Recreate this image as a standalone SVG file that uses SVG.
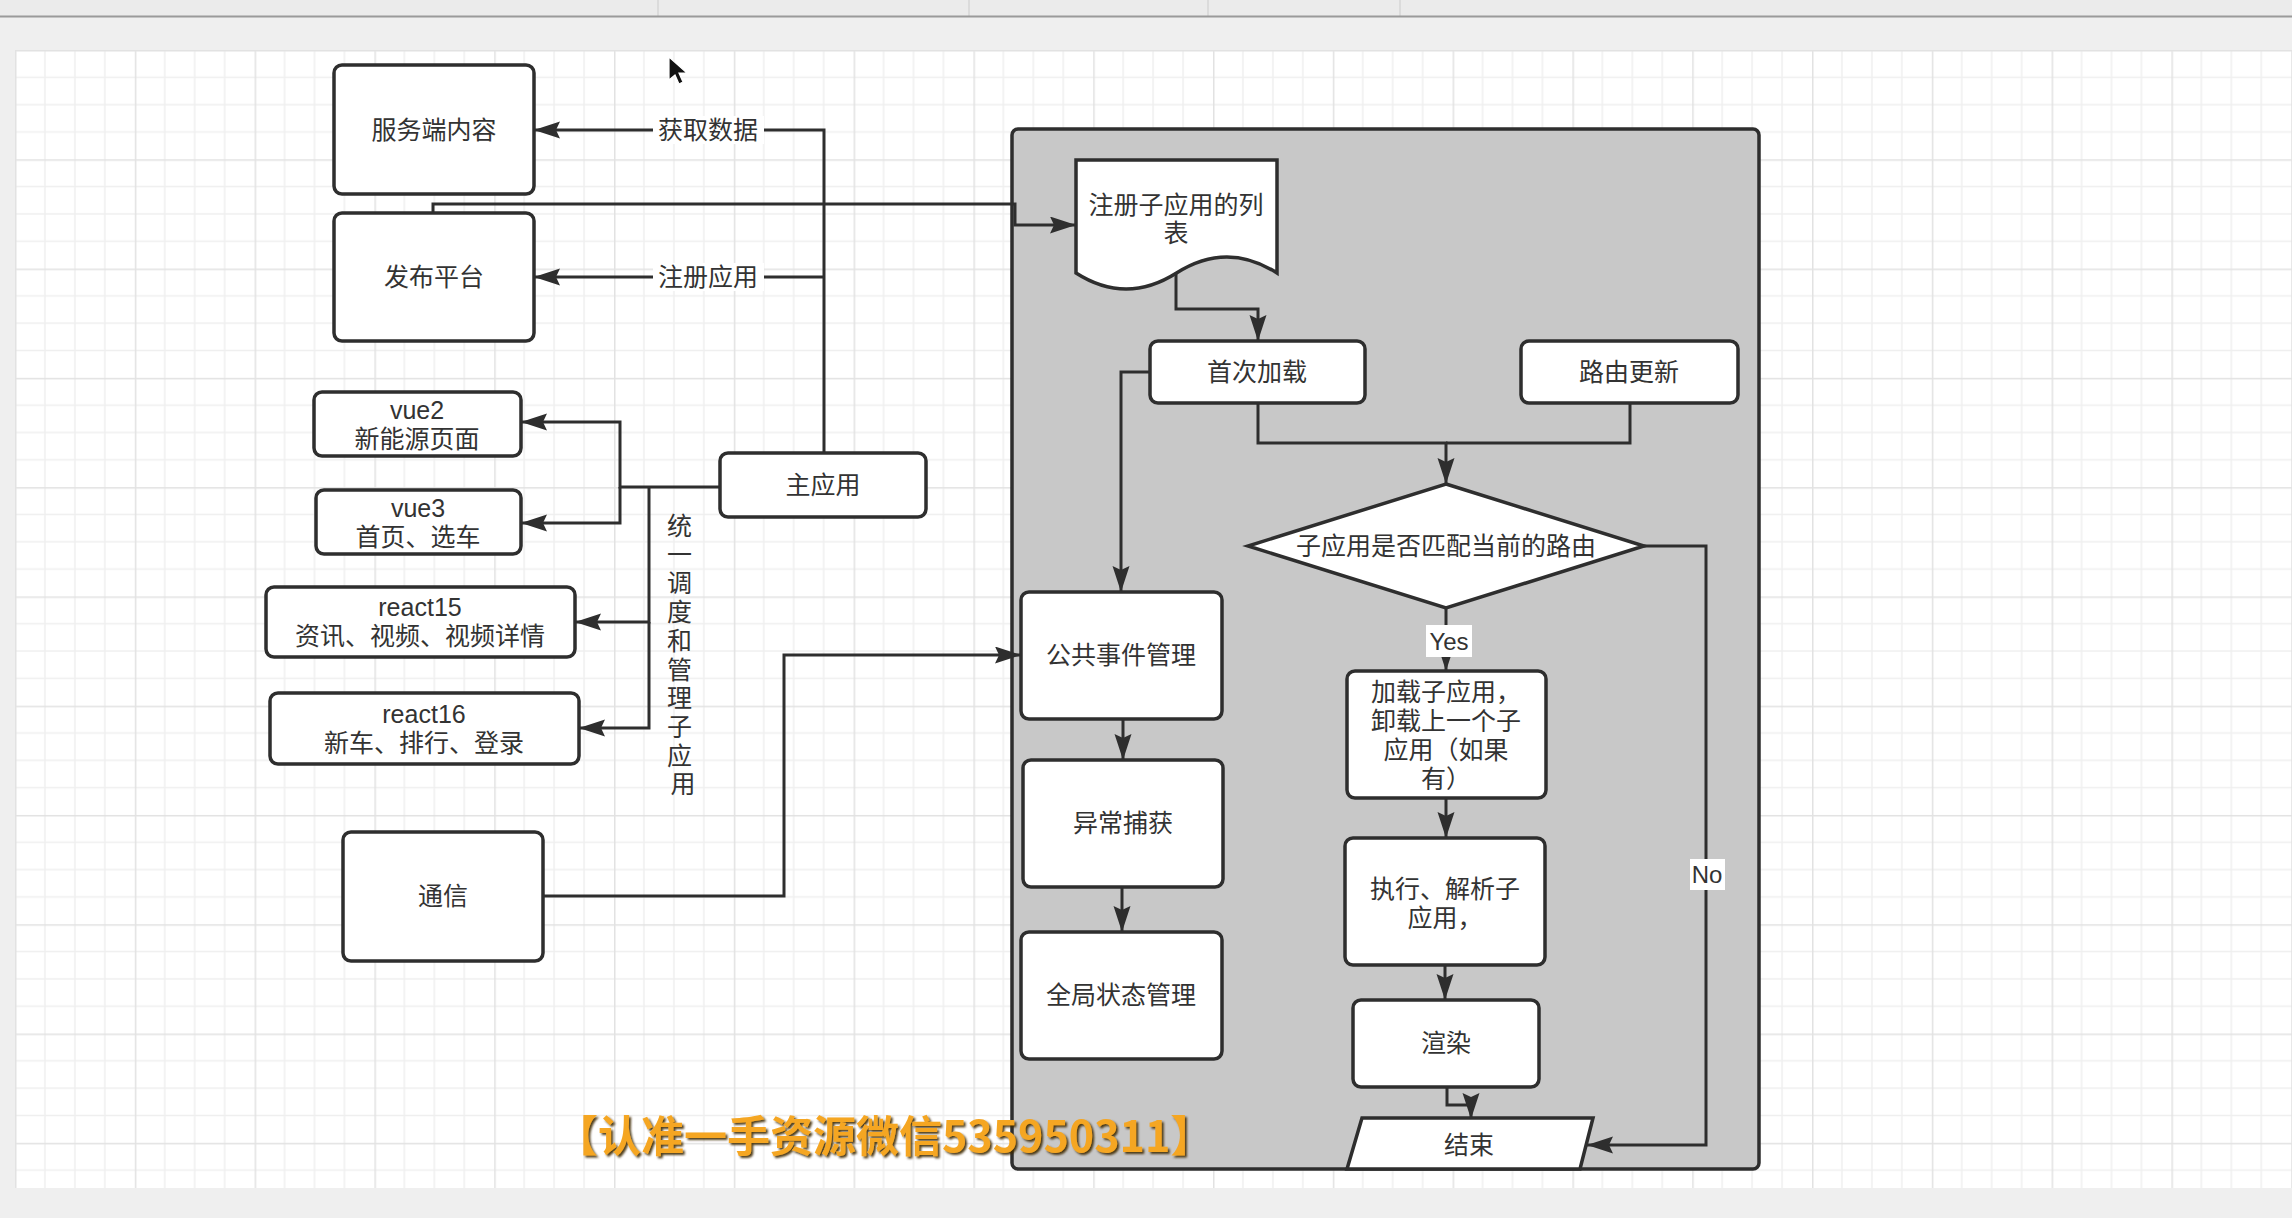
<svg xmlns="http://www.w3.org/2000/svg" width="2292" height="1218" viewBox="0 0 2292 1218">
  <defs>
    <style>
      .box { fill: #ffffff; stroke: #2e2e2e; stroke-width: 3.5; }
      .edge { fill: none; stroke: #2e2e2e; stroke-width: 3; }
      .t { font-family: "Liberation Sans", "Noto Sans CJK SC", sans-serif; font-size: 25px; fill: #333333; text-anchor: middle; dominant-baseline: central; }
      .lbl { fill: #ffffff; }
      .minor { stroke: #efefef; stroke-width: 1.5; }
      .major { stroke: #e2e2e2; stroke-width: 1.5; }
    </style>
    <pattern id="grid" patternUnits="userSpaceOnUse" x="15" y="50" width="119.8" height="109.28">
      <line class="minor" x1="29.95" y1="0" x2="29.95" y2="109.28"/>
      <line class="minor" x1="59.9" y1="0" x2="59.9" y2="109.28"/>
      <line class="minor" x1="89.85" y1="0" x2="89.85" y2="109.28"/>
      <line class="minor" x1="0" y1="27.32" x2="119.8" y2="27.32"/>
      <line class="minor" x1="0" y1="54.64" x2="119.8" y2="54.64"/>
      <line class="minor" x1="0" y1="81.96" x2="119.8" y2="81.96"/>
      <line class="major" x1="0.75" y1="0" x2="0.75" y2="109.28"/>
      <line class="major" x1="0" y1="0.75" x2="119.8" y2="0.75"/>
    </pattern>
    <marker id="arr" markerUnits="userSpaceOnUse" markerWidth="28" markerHeight="18" refX="26" refY="8.5" orient="auto">
      <path d="M0,0 L26,8.5 L0,17 L4,8.5 Z" fill="#2e2e2e"/>
    </marker>
    <filter id="shadow" x="-5%" y="-20%" width="110%" height="140%">
      <feDropShadow dx="2" dy="2" stdDeviation="0.8" flood-color="#3d2600" flood-opacity="0.9"/>
    </filter>
  </defs>

  <!-- window chrome and canvas -->
  <rect x="0" y="0" width="2292" height="1218" fill="#efefef"/>
  <rect x="0" y="0" width="2292" height="16" fill="#ebebeb"/>
  <g stroke="#d6d6d6" stroke-width="1.5">
    <line x1="658" y1="0" x2="658" y2="16"/>
    <line x1="969" y1="0" x2="969" y2="16"/>
    <line x1="1208" y1="0" x2="1208" y2="16"/>
    <line x1="1400" y1="0" x2="1400" y2="16"/>
  </g>
  <line x1="0" y1="16.5" x2="2292" y2="16.5" stroke="#9a9a9a" stroke-width="2"/>
  <rect x="15" y="50" width="2277" height="1138" fill="#ffffff"/>
  <rect x="15" y="50" width="2277" height="1138" fill="url(#grid)"/>

  <!-- sub-application lifecycle container -->
  <g id="container">
    <rect x="1012" y="129" width="747" height="1040" rx="6" fill="#c8c8c8" stroke="#2e2e2e" stroke-width="3.5"/>
  </g>

  <!-- connectors -->
  <g id="connectors">
    <path class="edge" d="M824,453 V130 H534" marker-end="url(#arr)"/>
    <path class="edge" d="M824,277 H534" marker-end="url(#arr)"/>
    <path class="edge" d="M433,213 V204 H1015 V225 H1076" marker-end="url(#arr)"/>
    <path class="edge" d="M720,487 H620 V422 H521" marker-end="url(#arr)"/>
    <path class="edge" d="M620,487 V523 H521" marker-end="url(#arr)"/>
    <path class="edge" d="M649,487 V622 H575" marker-end="url(#arr)"/>
    <path class="edge" d="M649,622 V728 H579" marker-end="url(#arr)"/>
    <path class="edge" d="M543,896 H784 V655 H1021" marker-end="url(#arr)"/>
    <path class="edge" d="M1176,274 V309 H1258 V341" marker-end="url(#arr)"/>
    <path class="edge" d="M1150,372 H1121 V592" marker-end="url(#arr)"/>
    <path class="edge" d="M1258,403 V443 H1446 V484" marker-end="url(#arr)"/>
    <path class="edge" d="M1630,403 V443 H1446"/>
    <path class="edge" d="M1123,719 V760" marker-end="url(#arr)"/>
    <path class="edge" d="M1122,887 V932" marker-end="url(#arr)"/>
    <path class="edge" d="M1446,608 V671" marker-end="url(#arr)"/>
    <path class="edge" d="M1446,798 V838" marker-end="url(#arr)"/>
    <path class="edge" d="M1445,965 V1000" marker-end="url(#arr)"/>
    <path class="edge" d="M1447,1087 V1105 H1471 V1119" marker-end="url(#arr)"/>
    <path class="edge" d="M1644,546 H1706 V1145 H1587" marker-end="url(#arr)"/>

    <rect class="lbl" x="653" y="116" width="111" height="28"/>
    <text class="t" x="708" y="130">获取数据</text>
    <rect class="lbl" x="653" y="263" width="111" height="28"/>
    <text class="t" x="708" y="277">注册应用</text>
    <text class="t">
      <tspan x="683" y="526">统</tspan>
      <tspan x="683" dy="28.7">一</tspan>
      <tspan x="683" dy="28.7">调</tspan>
      <tspan x="683" dy="28.7">度</tspan>
      <tspan x="683" dy="28.7">和</tspan>
      <tspan x="683" dy="28.7">管</tspan>
      <tspan x="683" dy="28.7">理</tspan>
      <tspan x="683" dy="28.7">子</tspan>
      <tspan x="683" dy="28.7">应</tspan>
      <tspan x="683" dy="28.7">用</tspan>
    </text>
    <rect class="lbl" x="1426" y="625" width="46" height="32"/>
    <text class="t" x="1449" y="641" style="font-size:24px">Yes</text>
    <rect class="lbl" x="1690" y="859" width="35" height="31"/>
    <text class="t" x="1707" y="874" style="font-size:24px">No</text>
  </g>

  <!-- left-hand nodes -->
  <g id="server-content">
    <rect class="box" x="334" y="65" width="200" height="129" rx="8"/>
    <text class="t" x="434" y="130">服务端内容</text>
  </g>
  <g id="publish-platform">
    <rect class="box" x="334" y="213" width="200" height="128" rx="8"/>
    <text class="t" x="434" y="277">发布平台</text>
  </g>
  <g id="vue2">
    <rect class="box" x="314" y="392" width="207" height="64" rx="8"/>
    <text class="t" x="417" y="410">vue2</text>
    <text class="t" x="417" y="439">新能源页面</text>
  </g>
  <g id="vue3">
    <rect class="box" x="316" y="490" width="205" height="64" rx="8"/>
    <text class="t" x="418" y="508">vue3</text>
    <text class="t" x="418" y="537">首页、选车</text>
  </g>
  <g id="react15">
    <rect class="box" x="266" y="587" width="309" height="70" rx="8"/>
    <text class="t" x="420" y="607">react15</text>
    <text class="t" x="420" y="636">资讯、视频、视频详情</text>
  </g>
  <g id="react16">
    <rect class="box" x="270" y="693" width="309" height="71" rx="8"/>
    <text class="t" x="424" y="714">react16</text>
    <text class="t" x="424" y="743">新车、排行、登录</text>
  </g>
  <g id="main-app">
    <rect class="box" x="720" y="453" width="206" height="64" rx="8"/>
    <text class="t" x="823" y="485">主应用</text>
  </g>
  <g id="communication">
    <rect class="box" x="343" y="832" width="200" height="129" rx="8"/>
    <text class="t" x="443" y="896">通信</text>
  </g>

  <!-- nodes inside the container -->
  <g id="app-list">
    <path class="box" d="M1076,160 H1277 V273 Q1227,241 1176.5,273 Q1126,305 1076,273 Z"/>
    <text class="t" x="1176" y="205">注册子应用的列</text>
    <text class="t" x="1176" y="233">表</text>
  </g>
  <g id="first-load">
    <rect class="box" x="1150" y="341" width="215" height="62" rx="8"/>
    <text class="t" x="1257" y="372">首次加载</text>
  </g>
  <g id="route-update">
    <rect class="box" x="1521" y="341" width="217" height="62" rx="8"/>
    <text class="t" x="1629" y="372">路由更新</text>
  </g>
  <g id="route-match">
    <polygon class="box" points="1446,484 1644,546 1446,608 1248,546"/>
    <text class="t" x="1446" y="546">子应用是否匹配当前的路由</text>
  </g>
  <g id="event-bus">
    <rect class="box" x="1021" y="592" width="201" height="127" rx="8"/>
    <text class="t" x="1121" y="655">公共事件管理</text>
  </g>
  <g id="error-capture">
    <rect class="box" x="1023" y="760" width="200" height="127" rx="8"/>
    <text class="t" x="1123" y="823">异常捕获</text>
  </g>
  <g id="global-state">
    <rect class="box" x="1021" y="932" width="201" height="127" rx="8"/>
    <text class="t" x="1121" y="995">全局状态管理</text>
  </g>
  <g id="load-app">
    <rect class="box" x="1347" y="671" width="199" height="127" rx="8"/>
    <text class="t" x="1446" y="692">加载子应用，</text>
    <text class="t" x="1446" y="721">卸载上一个子</text>
    <text class="t" x="1446" y="750">应用（如果</text>
    <text class="t" x="1446" y="779">有）</text>
  </g>
  <g id="exec-app">
    <rect class="box" x="1345" y="838" width="200" height="127" rx="8"/>
    <text class="t" x="1445" y="889">执行、解析子</text>
    <text class="t" x="1445" y="918">应用，</text>
  </g>
  <g id="render">
    <rect class="box" x="1353" y="1000" width="186" height="87" rx="8"/>
    <text class="t" x="1446" y="1043">渲染</text>
  </g>
  <g id="end">
    <polygon class="box" points="1362,1118 1593,1118 1580,1169 1347,1169"/>
    <text class="t" x="1469" y="1145">结束</text>
  </g>

  <!-- overlay caption -->
  <text x="555" y="1133" filter="url(#shadow)" style="font-family:'Noto Sans CJK SC',sans-serif;font-size:43px;font-weight:bold;fill:#f5a623;dominant-baseline:central">【认准一手资源微信535950311】</text>

  <!-- pointer -->
  <polygon points="669,57 669,80 675,75 679,84 683,82 679,73 687,73" fill="#111111" stroke="#ffffff" stroke-width="1.2"/>
</svg>
